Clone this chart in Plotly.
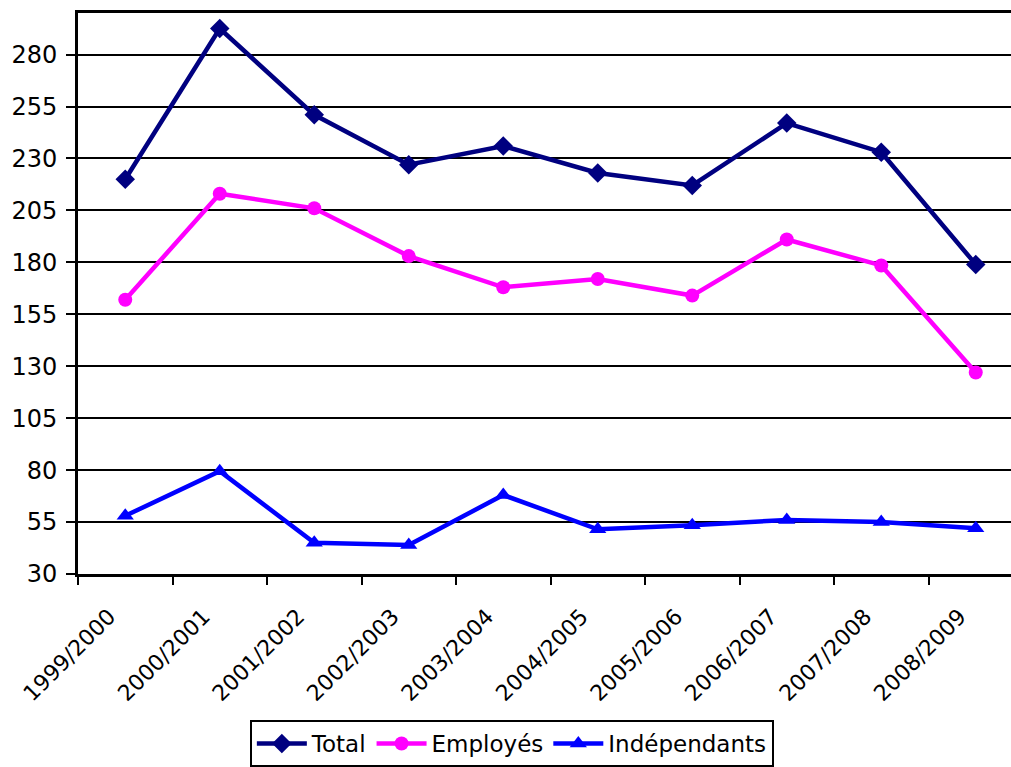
import plotly.graph_objects as go

categories = ["1999/2000", "2000/2001", "2001/2002", "2002/2003", "2003/2004",
              "2004/2005", "2005/2006", "2006/2007", "2007/2008", "2008/2009"]
total = [220, 292.5, 251, 227, 236, 223, 217, 247, 233, 179]
employes = [162, 213, 206, 183, 168, 172, 164, 191, 178.5, 127]
independants = [58, 79.5, 45, 44, 68, 51.5, 53.5, 56, 55, 52]
y_ticks = [30, 55, 80, 105, 130, 155, 180, 205, 230, 255, 280]

FONT = "DejaVu Sans"

fig = go.Figure()
fig.add_trace(go.Scatter(x=categories, y=total, name="Total", mode="lines+markers",
                         line=dict(color="#000080", width=4.5),
                         marker=dict(symbol="diamond", size=15, color="#000080")))
fig.add_trace(go.Scatter(x=categories, y=employes, name="Employés", mode="lines+markers",
                         line=dict(color="#FF00FF", width=4.5),
                         marker=dict(symbol="circle", size=14, color="#FF00FF")))
fig.add_trace(go.Scatter(x=categories, y=independants, name="Indépendants", mode="lines+markers",
                         line=dict(color="#0000FF", width=4.5),
                         marker=dict(symbol="triangle-up", size=15, color="#0000FF")))

fig.update_layout(
    width=1011, height=767,
    margin=dict(l=78, r=0, t=13, b=190),
    paper_bgcolor="white", plot_bgcolor="white",
    font=dict(family=FONT, size=23, color="black"),
    showlegend=True,
    legend=dict(orientation="h", x=0.465, xanchor="center", y=-0.2606, yanchor="top",
                bordercolor="black", borderwidth=2, font=dict(family=FONT, size=23, color="black"),
                itemwidth=50, tracegroupgap=0),
    xaxis=dict(type="category", range=[-0.5, 9.373], tickson="boundaries",
               ticks="outside", ticklen=8, tickwidth=2, tickcolor="black",
               showline=True, linecolor="black", linewidth=3, mirror=True,
               showgrid=False, tickangle=-45, tickfont=dict(family=FONT, size=22),
               ticklabelshift=-16, ticklabelstandoff=18),
    yaxis=dict(range=[30, 300], tickvals=y_ticks, ticks="outside", ticklen=9,
               tickwidth=2, tickcolor="black",
               showline=True, linecolor="black", linewidth=3,
               showgrid=True, gridcolor="black", gridwidth=2, zeroline=False,
               tickfont=dict(family=FONT, size=24), ticklabelstandoff=4),
)

fig.write_html("out.html", config={"displayModeBar": False},
               post_script="document.body.style.margin='0';document.body.style.overflow='hidden';")
